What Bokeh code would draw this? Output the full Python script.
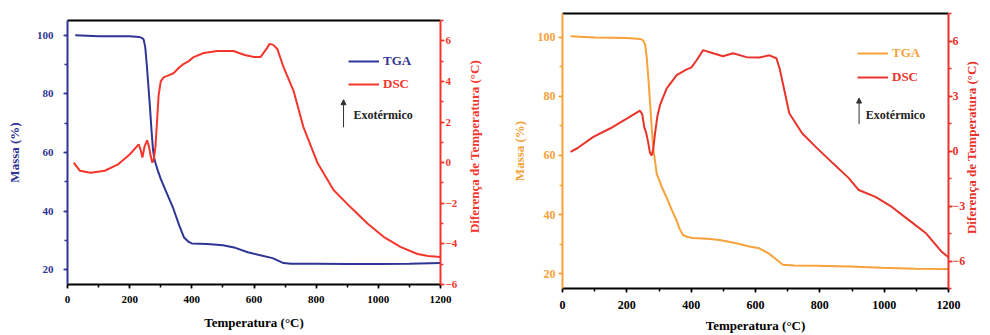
import math
from bokeh.plotting import figure
from bokeh.layouts import row
from bokeh.models import (LinearAxis, Range1d, SingleIntervalTicker, FixedTicker,
                          Legend, LegendItem, Label, Arrow, NormalHead, Plot)
from bokeh.embed import file_html
from bokeh.resources import INLINE

# ---------------- data: left panel ----------------
t1_tga = [25, 100, 200, 230, 240, 245, 250, 255, 260, 265, 270, 275, 280, 290, 300, 320,
          340, 360, 375, 390, 400, 450, 500, 540, 580, 620, 660, 695, 720, 800, 900,
          1000, 1100, 1200]
m1_tga = [100, 99.6, 99.6, 99.4, 99.0, 98.5, 96, 90, 83, 76, 68, 61, 57.5, 54, 51, 46,
          41, 35, 31, 29.5, 29, 28.8, 28.4, 27.5, 26, 25, 24, 22.3, 22.1, 22.1, 22.0,
          22.0, 22.1, 22.3]
t1_dsc = [20, 40, 74, 120, 161, 200, 229, 236, 241, 248, 256, 262, 268, 273, 278, 283,
          288, 293, 300, 309, 325, 341, 360, 373, 390, 406, 438, 482, 534, 570, 600,
          621, 640, 650, 662, 675, 695, 727, 759, 804, 856, 911, 965, 1017, 1071, 1126,
          1160, 1200]
d1_dsc = [0.0, -0.4, -0.5, -0.4, -0.1, 0.4, 0.9, 0.6, 0.25, 0.8, 1.1, 0.8, 0.3, 0.0, 0.2,
          0.8, 2.0, 3.3, 4.0, 4.2, 4.3, 4.4, 4.7, 4.85, 5.0, 5.2, 5.4, 5.5, 5.5, 5.3, 5.2,
          5.2, 5.6, 5.85, 5.8, 5.6, 4.7, 3.55, 1.75, 0.0, -1.35, -2.2, -3.0, -3.65,
          -4.15, -4.5, -4.6, -4.65]

# ---------------- data: right panel ----------------
t2_tga = [25, 100, 200, 241, 250, 257, 262, 267, 272, 277, 282, 293, 310, 324, 340, 355,
          365, 375, 390, 405, 450, 489, 540, 581, 612, 643, 665, 685, 720, 788, 890, 993,
          1098, 1200]
m2_tga = [100.3, 99.9, 99.7, 99.4, 99, 97.5, 93, 86, 78, 70, 62.5, 53.8, 49, 45.7, 41.5,
          37.9, 35, 33, 32.4, 32.1, 31.8, 31.4, 30.3, 29.2, 28.6, 26.7, 24.8, 23.0, 22.8,
          22.7, 22.4, 22.0, 21.7, 21.6]
t2_dsc = [25, 46, 96, 149, 201, 241, 248, 254, 260, 266, 272, 277, 282, 288, 295, 303,
          324, 355, 386, 400, 417, 437, 468, 499, 530, 572, 612, 643, 665, 675, 685, 705,
          745, 788, 840, 890, 921, 973, 1024, 1077, 1129, 1179, 1200]
d2_dsc = [-0.05, 0.15, 0.77, 1.24, 1.78, 2.2, 2.0, 1.3, 1.0, 0.5, -0.1, -0.25, 0.1, 1.0,
          1.9, 2.5, 3.42, 4.14, 4.45, 4.55, 4.95, 5.5, 5.33, 5.17, 5.33, 5.12, 5.1, 5.22,
          5.06, 4.5, 3.7, 2.06, 0.97, 0.21, -0.66, -1.48, -2.13, -2.5, -3.05, -3.77,
          -4.47, -5.5, -5.8]

X_LABEL = "Temperatura (°C)"
Y_LABEL = "Massa (%)"
R_LABEL = "Diferença de Temperatura (°C)"

FONT = "Liberation Serif"
BLUE = "#2f3594"
RED1 = "#f5362c"
ORANGE = "#f7a23a"
RED2 = "#e8332b"

HAS_FRAME_ALIGN = "frame_align" in Plot.properties()


def style_axis(ax, color, label, tick_size, label_standoff, title_standoff):
    ax.axis_line_color = color
    ax.axis_line_width = 2
    ax.major_tick_line_color = color
    ax.minor_tick_line_color = color
    ax.major_tick_line_width = 1.5
    ax.minor_tick_line_width = 1.5
    ax.major_tick_in = 0
    ax.major_tick_out = 4
    ax.minor_tick_in = 0
    ax.minor_tick_out = 3
    ax.major_label_text_font = FONT
    ax.major_label_text_font_style = "bold"
    ax.major_label_text_font_size = tick_size
    ax.major_label_text_color = color
    ax.major_label_standoff = label_standoff
    ax.axis_label = label
    ax.axis_label_text_font = FONT
    ax.axis_label_text_font_style = "bold"
    ax.axis_label_text_font_size = "13px"
    ax.axis_label_text_color = color
    ax.axis_label_standoff = title_standoff


def panel(t_tga, m_tga, t_dsc, d_dsc, tga_color, dsc_color, width, borders, y_range,
          dsc_range, dsc_interval, tick_size, stand, r_title, leg_pos, arrow_pos,
          text_pos):
    bl, br, bt, bb = borders
    p = figure(width=width, height=335, x_range=Range1d(0, 1200),
               y_range=Range1d(*y_range), output_backend="svg", toolbar_location=None,
               title_location=None,
               min_border_left=bl, min_border_right=br, min_border_top=bt,
               min_border_bottom=bb)
    if HAS_FRAME_ALIGN:
        p.frame_align = False
    p.extra_y_ranges = {"dsc": Range1d(*dsc_range)}
    p.grid.visible = False
    p.outline_line_color = None
    p.background_fill_color = "white"
    p.border_fill_color = "white"

    r_tga = p.line(t_tga, m_tga, line_color=tga_color, line_width=2)
    r_dsc = p.line(t_dsc, d_dsc, line_color=dsc_color, line_width=2, y_range_name="dsc")

    xa = p.xaxis[0]
    xa.ticker = SingleIntervalTicker(interval=200, num_minor_ticks=2)
    style_axis(xa, "black", X_LABEL, tick_size, *stand[0])

    ya = p.yaxis[0]
    ya.ticker = SingleIntervalTicker(interval=20, num_minor_ticks=2)
    style_axis(ya, tga_color, Y_LABEL, tick_size, *stand[1])

    # right DSC axis (ticks only)
    ra = LinearAxis(y_range_name="dsc",
                    ticker=SingleIntervalTicker(interval=dsc_interval, num_minor_ticks=2))
    style_axis(ra, dsc_color, None, tick_size, stand[2], 0)
    p.add_layout(ra, "right")

    # second right axis: its single rotated tick label is the DSC title (bottom to top)
    tv = r_title[0]
    ta = LinearAxis(y_range_name="dsc", ticker=FixedTicker(ticks=[tv], minor_ticks=[]),
                    major_label_overrides={tv: R_LABEL})
    style_axis(ta, dsc_color, None, "13px", r_title[1], 0)
    ta.axis_line_color = None
    ta.major_tick_out = 0
    ta.minor_tick_out = 0
    ta.major_label_orientation = math.pi / 2
    p.add_layout(ta, "right")

    top = LinearAxis(ticker=FixedTicker(ticks=[]), axis_line_color="black",
                     axis_line_width=2, major_tick_out=0, minor_tick_out=0,
                     major_tick_in=0, minor_tick_in=0, major_label_standoff=0,
                     major_label_text_font_size="0px")
    p.add_layout(top, "above")

    for lab, rend, col, pos in (("TGA", r_tga, tga_color, leg_pos[0]),
                                ("DSC", r_dsc, dsc_color, leg_pos[1])):
        leg = Legend(items=[LegendItem(label=lab, renderers=[rend])], location=pos,
                     label_text_font=FONT, label_text_font_style="bold",
                     label_text_font_size="13px", label_text_color=col,
                     border_line_color=None, background_fill_alpha=0, padding=0,
                     margin=0, spacing=0, label_standoff=4, glyph_width=31,
                     glyph_height=14, label_height=14)
        p.add_layout(leg)

    p.add_layout(Arrow(end=NormalHead(size=5, fill_color="#333333", line_color="#333333"),
                       x_start=arrow_pos[0], y_start=arrow_pos[1], x_end=arrow_pos[0],
                       y_end=arrow_pos[2], line_color="#333333", line_width=1))
    p.add_layout(Label(x=text_pos[0], y=text_pos[1], text="Exotérmico",
                       text_font=FONT, text_font_style="bold", text_font_size="12px",
                       text_baseline="middle", text_color="#222222"))
    return p


p1 = panel(t1_tga, m1_tga, t1_dsc, d1_dsc, BLUE, RED1, 498, (67, 58, 20, 51),
           (15, 105), (-6, 7), 2, "11px", ((7, 9), (10, 12), 1), (-3.47, 14),
           ((281, 215), (281, 192)), (888, 68.6, 78.0), (920, 72.7))
p2 = panel(t2_tga, m2_tga, t2_dsc, d2_dsc, ORANGE, RED2, 491, (64, 39, 13, 47),
           (15, 108), (-7.5, 7.5), 3, "12px", ((8, 6), (3, 8), 0), (-4.53, 3),
           ((295, 227), (295, 203)), (922, 70.6, 79.4), (943, 73.7))

layout = row(p1, p2)
open("out.html", "w").write(file_html(layout, INLINE))
